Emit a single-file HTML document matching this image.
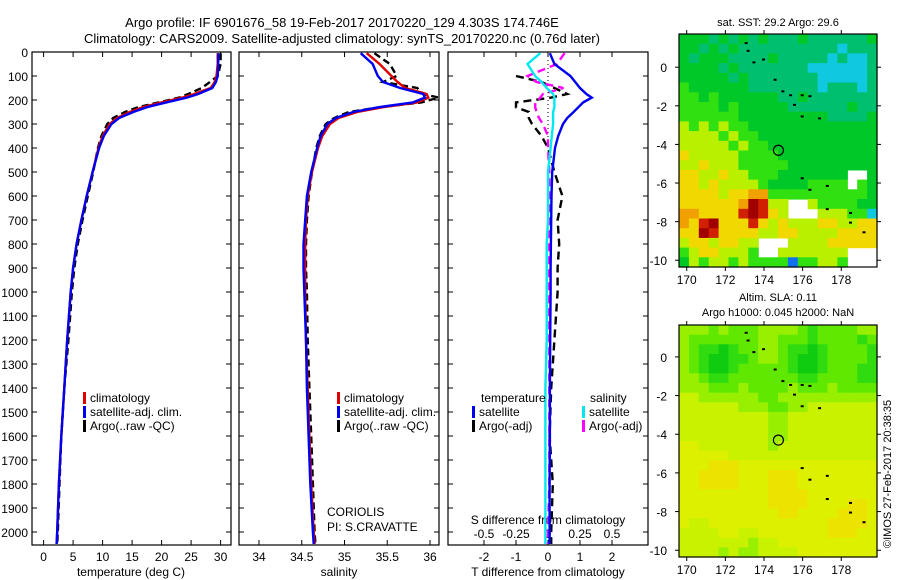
<!DOCTYPE html>
<html><head><meta charset="utf-8">
<style>
body{margin:0;background:#fff;}
svg{display:block;font-family:"Liberation Sans",sans-serif;}
text{fill:#000;}
</style></head>
<body>
<svg id="c" width="900" height="580" viewBox="0 0 900 580" xmlns="http://www.w3.org/2000/svg">
<text x="342" y="27" font-size="13" text-anchor="middle">Argo profile: IF 6901676_58 19-Feb-2017 20170220_129 4.303S 174.746E</text>
<text x="342" y="43" font-size="13" text-anchor="middle">Climatology: CARS2009. Satellite-adjusted climatology: synTS_20170220.nc (0.76d later)</text>
<text x="778" y="26" font-size="11" text-anchor="middle">sat. SST: 29.2 Argo: 29.6</text>
<text x="778" y="301" font-size="11" text-anchor="middle">Altim. SLA: 0.11</text>
<text x="778" y="316" font-size="11" text-anchor="middle">Argo h1000: 0.045 h2000: NaN</text>
<text transform="translate(891,548) rotate(-90)" font-size="11">©IMOS 27-Feb-2017 20:38:35</text>
<g id="g"></g>
</svg>
<script>
// ---- profile data ----
const depths = [5,50,100,125,150,175,190,210,230,250,275,300,350,400,500,600,700,800,900,1000,1200,1400,1600,1800,2000,2050];
const tempClim = [29.5,29.5,29.3,29.0,28.3,25.5,23.5,20.0,16.8,14.6,12.4,11.2,10.0,9.3,8.3,7.3,6.4,5.6,5.0,4.6,4.0,3.5,3.0,2.6,2.3,2.2];
const tempSat = [29.6,29.6,29.5,29.2,28.6,26.2,24.3,20.8,17.5,15.2,12.8,11.5,10.2,9.4,8.3,7.3,6.4,5.6,5.0,4.6,4.0,3.5,3.0,2.6,2.3,2.2];
const tempArgo = [30.0,30.0,29.5,28.2,26.8,24.5,23.0,19.5,16.0,13.8,11.8,10.8,9.8,9.2,8.4,7.5,6.6,5.8,5.2,4.8,4.2,3.5,3.0,2.7,2.4,2.3];
const salClim = [35.26,35.41,35.55,35.62,35.71,35.96,35.98,35.85,35.45,35.15,34.93,34.83,34.74,34.69,34.62,34.57,34.55,34.54,34.54,34.54,34.55,34.57,34.59,34.61,34.64,34.65];
const salSat = [35.19,35.33,35.39,35.45,35.65,35.92,35.94,35.80,35.40,35.10,34.90,34.80,34.72,34.68,34.61,34.56,34.54,34.52,34.52,34.53,34.55,34.56,34.58,34.60,34.63,34.64];
const salArgo = [35.35,35.53,35.61,35.45,35.85,35.92,36.10,35.90,35.42,35.05,34.88,34.78,34.71,34.67,34.62,34.58,34.56,34.55,34.55,34.56,34.57,34.59,34.61,34.63,34.65,34.66];
const dTsat = [0.06,0.2,0.7,0.85,1.0,1.2,1.37,1.1,0.95,0.8,0.6,0.47,0.32,0.22,0.13,0.11,0.1,0.09,0.08,0.08,0.07,0.06,0.06,0.05,0.05,0.05];
const dTargo = [null,null,-1.0,-0.2,0.2,0.6,0.1,-1.0,-1.0,-0.6,-0.6,-0.5,-0.2,0.0,0.2,0.45,0.3,0.35,0.3,0.3,0.2,0.1,0.05,0.15,0.1,0.1];
const dSsat = [-0.06,-0.16,-0.1,-0.05,-0.01,0.04,0.05,0.05,0.05,0.04,0.04,0.04,0.03,0.02,0.0,0.0,0.0,-0.01,-0.01,-0.01,-0.01,-0.02,-0.02,-0.02,-0.02,-0.02];
const dSargo = [0.13,0.07,-0.16,-0.09,0.12,-0.04,-0.06,-0.1,-0.1,-0.09,-0.07,-0.04,0.0,0.0,0.01,0.01,0.01,0.01,0.01,0.01,0.01,0.01,0.01,0.01,0.0,0.0];
const depthTicks = [0,100,200,300,400,500,600,700,800,900,1000,1100,1200,1300,1400,1500,1600,1700,1800,1900,2000];
const tempTicks = [0,5,10,15,20,25,30];
const salTicks = ["34","34.5","35","35.5","36"];
const diffTicks = [-2,-1,0,1,2];
const sdiffTicks = ["-0.5","-0.25","0","0.25","0.5"];
// ---- map data ----
const lonTicks = [170,172,174,176,178];
const latTicks = [0,-2,-4,-6,-8,-10];
const sstGrid = [
"33323232322232222223","33232322222222221222","32333222232222212112","33332322222221111112",
"33333232222222111112","43333332222222122212","44343333332232222222","44443433333222222322",
"44444433333333322223","54545443333333333333","55554544333333333333","55555454433333333333",
"65555544443333333333","55655544444333333333","66556554443333333..3","66565555433334444.43",
"66665667744444444443","66666679855..5444433","77666689865...555441","76896668656555665566",
"66986666556655556666","56656655...555566666","45665554..5555555...","35455454444044554..."];
const slaGrid = [
"33323222333321222233","32222222332221222212","32110122332110122221","32100112332100122221",
"32100122222100122211","33211222222211222211","33322232222322232222","44333333223333333333",
"44444433322334444444","44444444433444444444","44444444433444444444","44444444433444444444",
"55444444434444444444","55555444444444444444","55566655555555555555","55666655566655555555",
"55666655566655555555","55555555566665555555","55555555566665555665","55555555556655556665",
"54455555555555566665","44445544555555566655","44444443445555555555","44443433444455555555"];
const sstPalette = {"0":"#1070f0","1":"#10c8e0","2":"#00c070","3":"#00c828","4":"#30e010","5":"#b8f000","6":"#f0d800","7":"#f0a000","8":"#d02000","9":"#a00000"};
const slaPalette = {"0":"#10cc10","1":"#30dc10","2":"#60e800","3":"#98f000","4":"#c8f200","5":"#dcf000","6":"#ece400"};
const argoLon = 174.746, argoLat = -4.303;
const islands = [[173.0,1.3],[173.1,0.9],[173.4,0.3],[173.9,0.45],[174.5,-0.6],[174.9,-1.2],[175.3,-1.4],[175.9,-1.4],[176.3,-1.45],[175.5,-1.9],[175.9,-2.5],[176.8,-2.6],[175.9,-5.7],[176.3,-6.3],[177.2,-6.1],[177.2,-7.3],[178.4,-7.5],[178.4,-8.0],[179.1,-8.5]];

const NS="http://www.w3.org/2000/svg";
const G=document.getElementById('g');
function mk(tag,attrs,parent){const e=document.createElementNS(NS,tag);for(const k in attrs)e.setAttribute(k,attrs[k]);(parent||G).appendChild(e);return e;}
function txt(x,y,s,size,anchor,parent){const t=mk('text',{x:x,y:y,'font-size':size,'text-anchor':anchor||'start'},parent);t.textContent=s;return t;}

const TOP=52, BOT=545;
const yD = d => TOP + d*0.24;
const xT = v => 43.6 + v*5.9;
const xS = v => 259 + (v-34)*85.5;
const xDT = v => 548 + v*32;
const xDS = v => 548 + v*128;

function panel(x0,x1,name){
  const r=mk('rect',{x:x0,y:TOP,width:x1-x0,height:BOT-TOP,fill:'none',stroke:'#000','stroke-width':1.2});
  
  
  depthTicks.forEach(d=>{
    mk('line',{x1:x0,x2:x0+5,y1:yD(d),y2:yD(d),stroke:'#000'});
    mk('line',{x1:x1-5,x2:x1,y1:yD(d),y2:yD(d),stroke:'#000'});
  });
}
function xticks(vals,f,x0,x1,name){
  const g=mk('g',{});
  
  
  vals.forEach(v=>{const x=f(parseFloat(v));
    mk('line',{x1:x,x2:x,y1:TOP,y2:TOP+5,stroke:'#000'},g);
    mk('line',{x1:x,x2:x,y1:BOT-5,y2:BOT,stroke:'#000'},g);
    txt(x,561,String(v),12,'middle',g);});
}
function line(xs,f,color,dash,name){
  let d='',pen=false;
  depths.forEach((dp,i)=>{const v=xs[i];if(v===null){pen=false;return;}
    d+=(pen?'L':'M')+f(v).toFixed(1)+','+yD(dp).toFixed(1);pen=true;});
  const p=mk('path',{d:d,fill:'none',stroke:color,'stroke-width':2.4,'stroke-dasharray':dash||'none'});
  
  
}
panel(32,231,'temperature-panel');
panel(239,439,'salinity-panel');
panel(448,648,'difference-panel');
depthTicks.forEach(d=>{const t=txt(28,yD(d)+5,String(d),12,'end');
  
  });
xticks(tempTicks,xT,32,231,'temperature-x-axis');
xticks(salTicks,xS,239,439,'salinity-x-axis');
xticks(diffTicks,xDT,448,648,'t-difference-x-axis');
sdiffTicks.forEach(v=>{const t=txt(xDS(parseFloat(v)),538,v,12,'middle');
  
  });
[['temperature (deg C)',131,'temperature-axis-title'],['salinity',339,'salinity-axis-title'],['T difference from climatology',548,'t-difference-axis-title']].forEach(a=>{
  const t=txt(a[1],576,a[0],12,'middle');
  
  });
const st=txt(548,524,'S difference from climatology',12,'middle');


mk('line',{x1:548,x2:548,y1:TOP,y2:yD(400),stroke:'#000','stroke-dasharray':'1,3'});
line(tempArgo,xT,'#000','7,4','temperature-argo-line');
line(tempClim,xT,'#e00000',null,'temperature-climatology-line');
line(tempSat,xT,'#0000f0',null,'temperature-satellite-line');
line(salArgo,xS,'#000','7,4','salinity-argo-line');
line(salClim,xS,'#e00000',null,'salinity-climatology-line');
line(salSat,xS,'#0000f0',null,'salinity-satellite-line');
line(dTargo,xDT,'#000','8,5','t-diff-argo-line');
line(dSargo,xDS,'#ff00ff','8,5','s-diff-argo-line');
line(dSsat,xDS,'#00e8f0',null,'s-diff-satellite-line');
line(dTsat,xDT,'#0000f0',null,'t-diff-satellite-line');
function legend(x,y,color,label,name){
  const g=mk('g',{});
  
  
  mk('rect',{x:x,y:y-10,width:3,height:12,fill:color},g);
  txt(x+7,y,label,12,'start',g);
}
legend(83,402,'#e00000','climatology','legend-climatology');
legend(83,416,'#0000f0','satellite-adj. clim.','legend-satellite-adj');
legend(83,430,'#000','Argo(..raw -QC)','legend-argo');
legend(337,402,'#e00000','climatology','legend-climatology-sal');
legend(337,416,'#0000f0','satellite-adj. clim.','legend-satellite-adj-sal');
legend(337,430,'#000','Argo(..raw -QC)','legend-argo-sal');
const lt=txt(481,402,'temperature',12,'start');


const ls=txt(590,402,'salinity',12,'start');


legend(472,416,'#0000f0','satellite','legend-t-satellite');
legend(472,430,'#000','Argo(-adj)','legend-t-argo');
legend(582,416,'#00e8f0','satellite','legend-s-satellite');
legend(582,430,'#ff00ff','Argo(-adj)','legend-s-argo');
const c1=txt(327,516,'CORIOLIS',12,'start');


const c2=txt(327,531,'PI: S.CRAVATTE',12,'start');



function map(grid,pal,y0,y1,latTop,name){
  const x0=679,x1=877, lonL=169.6, lonR=179.85, latBot=-10.35;
  const xL=v=>x0+(v-lonL)/(lonR-lonL)*(x1-x0);
  const yL=v=>y0+(latTop-v)/(latTop-latBot)*(y1-y0);
  const g=mk('g',{});
  
  
  const nr=grid.length,nc=grid[0].length;
  const dLat=(latTop-latBot)/nr,dLon=(lonR-lonL)/nc;
  grid.forEach((row,i)=>{for(let j=0;j<nc;j++){const ch=row[j];if(!(ch in pal))continue;
    const xa=xL(lonL+j*dLon),xb=xL(lonL+(j+1)*dLon),ya=yL(latTop-i*dLat),yb=yL(latTop-(i+1)*dLat);
    const r=mk('rect',{x:xa.toFixed(1),y:ya.toFixed(1),width:(xb-xa+0.6).toFixed(1),height:(yb-ya+0.6).toFixed(1),fill:pal[ch]},g);
    
    }});
  islands.forEach(p=>{mk('rect',{x:xL(p[0]),y:yL(p[1]),width:3,height:2,fill:'#000'},g);});
  mk('rect',{x:x0,y:y0,width:x1-x0,height:y1-y0,fill:'none',stroke:'#000','stroke-width':1.2},g);
  lonTicks.forEach(v=>{const x=xL(v);
    mk('line',{x1:x,x2:x,y1:y0-4,y2:y0,stroke:'#000'},g);
    mk('line',{x1:x,x2:x,y1:y1,y2:y1+4,stroke:'#000'},g);
    txt(x,y1+17,String(v),12,'middle',g);});
  latTicks.forEach(v=>{const y=yL(v);
    mk('line',{x1:x0-4,x2:x0,y1:y,y2:y,stroke:'#000'},g);
    mk('line',{x1:x1,x2:x1+4,y1:y,y2:y,stroke:'#000'},g);
    txt(x0-12,y+5,String(v),12,'end',g);});
  const c=mk('circle',{cx:xL(argoLon),cy:yL(argoLat),r:5,fill:'none',stroke:'#000','stroke-width':1.2},g);
  
  
}
map(sstGrid,sstPalette,34,267,1.72,'sst-map');
map(slaGrid,slaPalette,325,557,1.65,'sla-map');
</script>
</body></html>
